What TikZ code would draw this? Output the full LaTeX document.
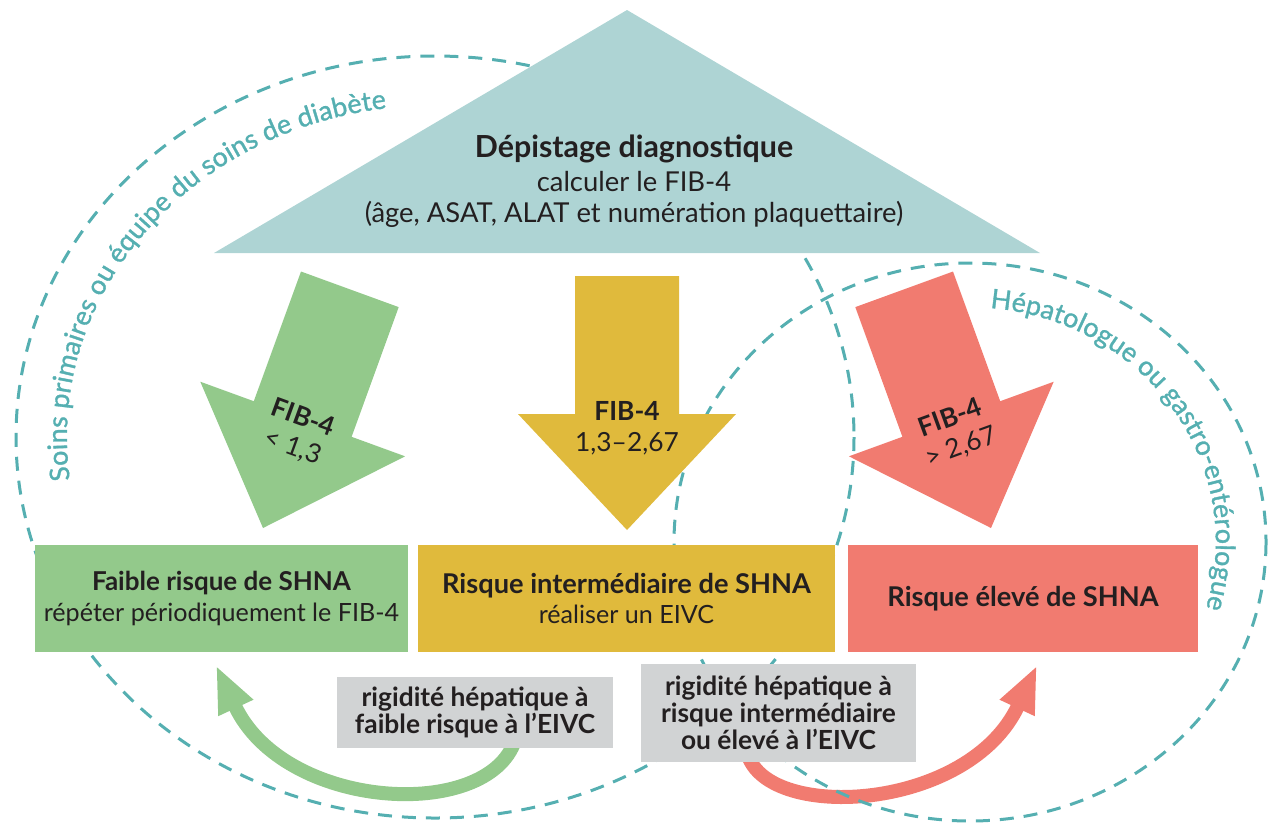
\documentclass[tikz,border=0pt]{standalone}
\usepackage{fontspec}
\setmainfont{Lato}
\newfontfamily\zonefont[FakeBold=1.2]{Lato}
\usetikzlibrary{arrows.meta, decorations.text, backgrounds}

\definecolor{pyramide}{HTML}{AED4D4}
\definecolor{vert}{HTML}{93C98B}
\definecolor{jaune}{HTML}{E0BA3C}
\definecolor{rouge}{HTML}{F17B70}
\definecolor{gris}{HTML}{D1D3D4}
\definecolor{sarcelle}{HTML}{55AFB1}
\definecolor{encre}{HTML}{231F20}

\begin{document}
\begin{tikzpicture}[x=0.02cm, y=-0.02cm,
        risque/.style={minimum height=2.14cm, inner sep=0pt, align=center, text=encre, font=\fontsize{14.3}{17.5}\selectfont},
        rigidite/.style={fill=gris, inner sep=0pt, align=center, text=encre, font=\bfseries\fontsize{15}{15.5}\selectfont},
        seuil/.style={align=center, text=encre, font=\fontsize{15}{17.5}\selectfont},
        zone/.style={sarcelle, line width=0.06cm, dash pattern=on 0.28cm off 0.2cm},
        retour/.style={line width=0.28cm, -{Triangle[length=0.94cm, width=0.7cm]}}]
    \useasboundingbox (0,0) rectangle (1270,823);

    \draw[zone] (435,437) ellipse [x radius=419, y radius=381];
    \draw[zone] (970,542) ellipse [x radius=296, y radius=279];

    \fill[pyramide] (627,10) -- (1040,253) -- (214,253) -- cycle;
    \node (depistage) at (634,181) [align=center, text=encre, font=\fontsize{15.6}{17.5}\selectfont]
        {{\fontsize{17.3}{17.5}\selectfont\bfseries Dépistage diagnostique}\\[2pt] calculer le FIB-4\\ (âge, ASAT, ALAT et numération plaquettaire)};

    \fill[vert] (301,271.5) -- (398.7,307.1) -- (351.6,436.8) -- (405.1,456.3) -- (263,528) -- (200.3,381.7) -- (253.8,401.2) -- cycle;
    \fill[jaune] (575,276) -- (679,276) -- (679,414) -- (736,414) -- (627,530) -- (518,414) -- (575,414) -- cycle;
    \fill[rouge] (953,271.5) -- (855.3,307.1) -- (902.4,436.8) -- (848.9,456.3) -- (991,528) -- (1053.7,381.7) -- (1000.2,401.2) -- cycle;

    \node (seuilbas) at (298,433) [seuil, rotate=-20] {\textbf{FIB-4}\\< 1,3};
    \node (seuilmoyen) at (627,428) [seuil] {\textbf{FIB-4}\\1,3–2,67};
    \node (seuilhaut) at (956,433) [seuil, rotate=20] {\textbf{FIB-4}\\> 2,67};

    \node (faible) at (221.5,598.5) [risque, fill=vert, minimum width=7.46cm] {{\fontsize{14.8}{17.5}\selectfont\bfseries Faible risque de SHNA}\\répéter périodiquement le FIB-4};
    \node (intermediaire) at (626.5,598.5) [risque, fill=jaune, minimum width=8.34cm] {{\fontsize{15.5}{17.5}\selectfont\bfseries Risque intermédiaire de SHNA}\\réaliser un EIVC};
    \node (eleve) at (1023,598.5) [risque, fill=rouge, minimum width=7cm] {{\fontsize{15.5}{17.5}\selectfont\bfseries Risque élevé de SHNA}};

    \node (rigidfaible) at (475,712.5) [rigidite, minimum width=5.52cm, minimum height=1.42cm] {rigidité hépatique à\\faible risque à l’EIVC};
    \node (rigideleve) at (778.5,713) [rigidite, minimum width=5.5cm, minimum height=1.96cm] {rigidité hépatique à\\risque intermédiaire\\ou élevé à l’EIVC};

    \begin{pgfonlayer}{background}
        \draw[retour, vert] ([xshift=0.8cm, yshift=0.16cm]rigidfaible.south) .. controls (488,822) and (284,811) .. ([xshift=-0.11cm, yshift=-0.26cm]faible.south);
        \draw[retour, rouge] ([xshift=-0.61cm, yshift=0.14cm]rigideleve.south) .. controls (770,822) and (969,811) .. ([xshift=0.28cm, yshift=-0.26cm]eleve.south);
    \end{pgfonlayer}

    \path[decorate, decoration={text along path, text align={fit to path},
        text={|\color{sarcelle}\zonefont\fontsize{15.3}{16}\selectfont|Soins primaires ou équipe du soins de diabète}}]
        (70,480) arc [start angle=172.6, end angle=262.4, x radius=368, y radius=332];
    \path[decorate, decoration={text along path, text align={fit to path},
        text={|\color{sarcelle}\zonefont\fontsize{15.3}{16}\selectfont|Hépatologue ou gastro-entérologue}}]
        (990,308) arc [start angle=274.7, end angle=376.3, x radius=246, y radius=235];
\end{tikzpicture}
\end{document}
